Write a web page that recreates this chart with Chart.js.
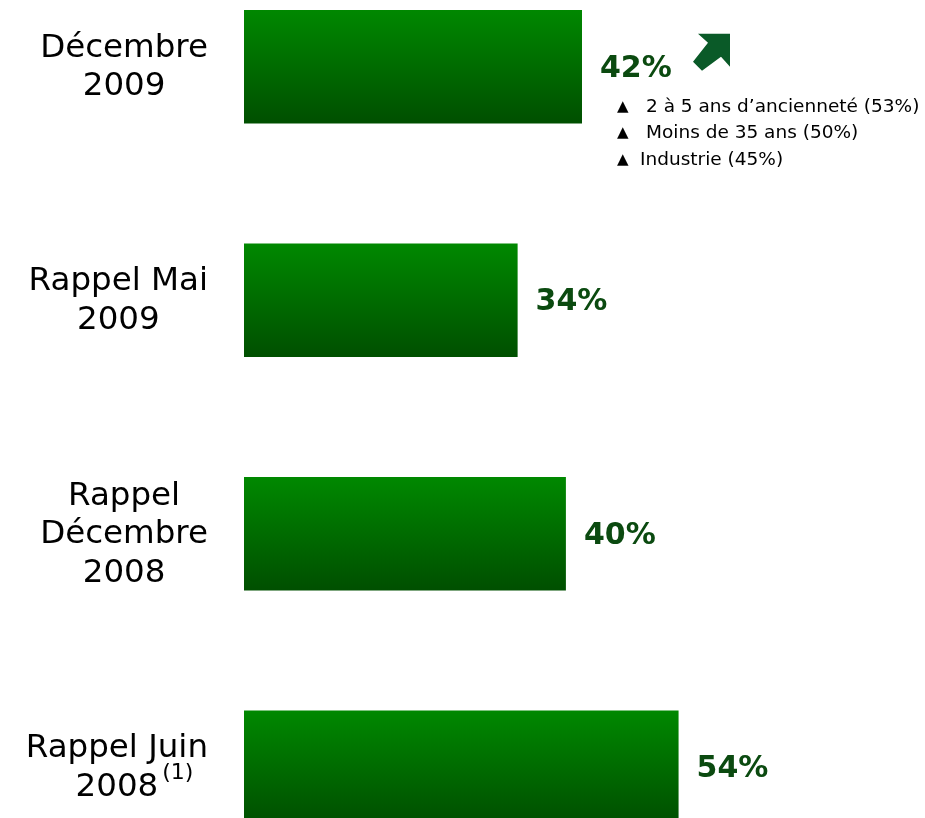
<!DOCTYPE html>
<html>
<head>
<meta charset="utf-8">
<script src="https://cdn.jsdelivr.net/npm/chart.js@4.4.1/dist/chart.umd.min.js"></script>
<style>
  html, body { margin: 0; padding: 0; background: #fff; overflow: hidden; }
  body { width: 925px; height: 818px; position: relative; }
  /* the category bands run past the top and bottom edges of the slide */
  #wrap { position: absolute; left: 0; top: -50px; width: 925px; height: 934px; }
</style>
</head>
<body>
<div id="wrap"><canvas id="chart"></canvas></div>
<script>
// Data
const categories = [["Décembre", "2009"], ["Rappel Mai", "2009"], ["Rappel", "Décembre", "2008"], ["Rappel Juin", "2008"]];
const footnotes = ["", "", "", "(1)"];
const values = [42, 34, 40, 54];
const highlights = ["2 à 5 ans d’ancienneté (53%)", "Moins de 35 ans (50%)", "Industrie (45%)"];

const FONT = "'DejaVu Sans', Verdana, sans-serif";
const BAR_PCT = 0.486;

// vertical gradient for each bar, worked out from the category scale
function barGradient(ctx) {
  const chart = ctx.chart;
  const y = chart.scales.y;
  if (!chart.chartArea || !y) return "#007000";
  const cy = y.getPixelForValue(ctx.dataIndex);
  const h = (chart.chartArea.height / categories.length) * BAR_PCT;
  if (!isFinite(cy) || !isFinite(h)) return "#007000";
  const g = chart.ctx.createLinearGradient(0, cy - h / 2, 0, cy + h / 2);
  g.addColorStop(0, "#008800");
  g.addColorStop(1, "#004f00");
  return g;
}

// category labels, value labels, arrow and highlight notes
const labelsPlugin = {
  id: "labels",
  afterDatasetsDraw(chart) {
    const c = chart.ctx;
    const y = chart.scales.y;
    const meta = chart.getDatasetMeta(0);
    c.save();
    c.textBaseline = "middle";

    // category labels: block right edge at 208, lines centred in the block
    const catFont = "32.5px " + FONT;
    categories.forEach((lines, i) => {
      c.font = catFont;
      c.fillStyle = "#000";
      const w = Math.max(...lines.map(l => c.measureText(l).width));
      const cx = 208 - w / 2;
      const lh = 38.5;
      const cy = y.getPixelForValue(i) + 1;
      lines.forEach((l, k) => {
        const ly = cy + (k - (lines.length - 1) / 2) * lh;
        c.textAlign = "center";
        c.fillText(l, cx, ly);
        if (k === lines.length - 1 && footnotes[i]) {
          const lw = c.measureText(l).width;
          c.font = "22px " + FONT;
          c.textAlign = "left";
          c.fillText(footnotes[i], cx + lw / 2 + 4, ly - 14);
          c.font = catFont;
        }
      });
    });

    // value labels
    c.font = "bold 30px " + FONT;
    c.fillStyle = "#0b4a10";
    c.textAlign = "left";
    meta.data.forEach((bar, i) => {
      c.fillText(values[i] + "%", bar.x + 18, bar.y + 2);
    });

    // arrow next to the first value
    const b0 = meta.data[0];
    const ax = b0.x + 111, ay = b0.y - 33;
    c.fillStyle = "#0a5a28";
    c.beginPath();
    c.moveTo(ax + 37, ay);
    c.lineTo(ax + 37, ay + 33);
    c.lineTo(ax + 28, ay + 23);
    c.lineTo(ax + 9, ay + 37);
    c.lineTo(ax, ay + 28);
    c.lineTo(ax + 15, ay + 9);
    c.lineTo(ax + 5, ay);
    c.closePath();
    c.fill();

    // highlight notes under the first bar value
    c.fillStyle = "#000";
    highlights.forEach((t, k) => {
      const ly = b0.y + 40 + k * 26.5;
      c.font = "15px " + FONT;
      c.fillText("▲", b0.x + 35, ly);
      c.font = "18.5px " + FONT;
      c.fillText(t, b0.x + (k < 2 ? 64 : 58), ly);
    });
    c.restore();
  }
};

new Chart(document.getElementById("chart"), {
  type: "bar",
  data: {
    labels: categories,
    datasets: [{
      data: values,
      backgroundColor: barGradient,
      borderWidth: 0,
      barPercentage: BAR_PCT,
      categoryPercentage: 1
    }]
  },
  options: {
    indexAxis: "y",
    responsive: true,
    maintainAspectRatio: false,
    animation: false,
    layout: { padding: { left: 244, right: 5, top: 0, bottom: 0 } },
    plugins: { legend: { display: false }, tooltip: { enabled: false } },
    scales: {
      x: { min: 0, max: 84, display: false },
      y: { display: false }
    }
  },
  plugins: [labelsPlugin]
});
</script>
</body>
</html>
